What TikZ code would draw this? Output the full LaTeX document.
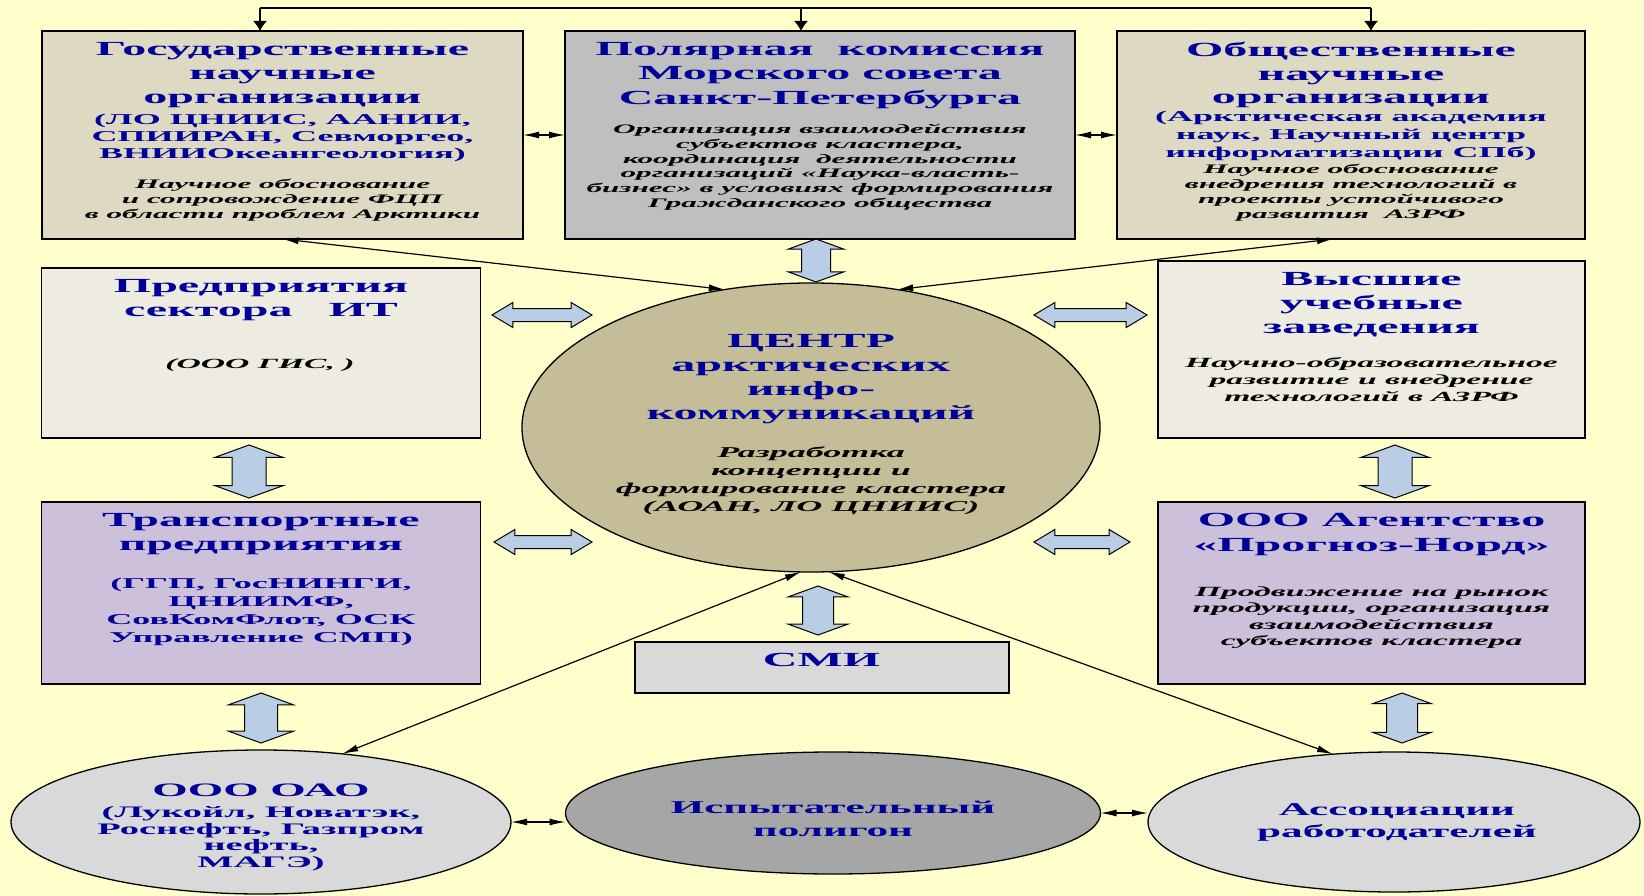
\documentclass[tikz,border=0pt]{standalone}
\usepackage{fontspec}
\setmainfont[FakeStretch=2.4]{Liberation Serif}
\usepackage{tikz}
\usetikzlibrary{positioning}
\usetikzlibrary{shapes.geometric}
\usetikzlibrary{shapes.arrows}
\usetikzlibrary{arrows.meta}

\definecolor{bgyellow}{HTML}{FFFFCC}
\definecolor{boxsand}{HTML}{DDD9C3}
\definecolor{boxgray}{HTML}{BFBFBF}
\definecolor{boxpale}{HTML}{EEECE1}
\definecolor{boxlilac}{HTML}{CCC0DA}
\definecolor{ovalkhaki}{HTML}{C4BD97}
\definecolor{boxlight}{HTML}{D9D9D9}
\definecolor{ovaldark}{HTML}{A6A6A6}
\definecolor{arrowblue}{HTML}{B9CDE5}
\definecolor{headblue}{HTML}{000099}

\begin{document}
\begin{tikzpicture}[
        x = 1pt, y = -1pt,
        box/.style = {
            draw,
            rectangle,
            line width = 1.3pt,
            inner sep = 0pt,
            outer sep = 0pt
        },
        oval/.style = {
            draw,
            ellipse,
            line width = 1.3pt,
            inner sep = 0pt,
            outer sep = 0pt
        },
        head/.style 2 args = {
            text = headblue,
            align = center,
            anchor = north,
            inner sep = 0pt,
            font = \bfseries\fontsize{#1}{#2}\selectfont
        },
        note/.style 2 args = {
            align = center,
            anchor = north,
            inner sep = 0pt,
            font = \bfseries\itshape\fontsize{#1}{#2}\selectfont
        },
        fath/.style = {
            double arrow,
            draw,
            fill = arrowblue,
            line width = 1pt,
            inner xsep = 0pt,
            inner ysep = 6pt,
            double arrow head extend = 6pt,
            double arrow tip angle = 62
        },
        fatv/.style = {
            double arrow,
            draw,
            fill = arrowblue,
            line width = 1pt,
            inner xsep = 0pt,
            inner ysep = #1,
            rotate = 90,
            double arrow tip angle = 140
        },
        fatv/.default = 16.5pt,
        link/.style = {
            line width = 1.2pt,
            {Latex[length=16pt, width=7pt]}-{Latex[length=16pt, width=7pt]}
        },
        drop/.style = {
            line width = 1.3pt,
            -{Latex[length=10pt, width=14pt]}
        }
        ]
%
        \fill[bgyellow] (0,0) rectangle (1644,896);
        \useasboundingbox (0,0) rectangle (1644,896);
%
% top row
        \node[box, fill=boxsand, minimum width=481pt, minimum height=208pt] (gov) at (282.5,135) {};
        \node[box, fill=boxgray, minimum width=510pt, minimum height=208pt] (polar) at (820,135) {};
        \node[box, fill=boxsand, minimum width=468pt, minimum height=208pt] (pub) at (1351,135) {};
%
        \node[head={20}{24}] (govH) at (282.5,42) {Государственные\\научные\\организации};
        \node[head={15}{17}] (govP) at (282.5,113.5) {(ЛО ЦНИИС, ААНИИ,\\СПИИРАН, Севморгео,\\ВНИИОкеангеология)};
        \node[note={13}{15}] (govN) at (282.5,179) {Научное обоснование\\и сопровождение ФЦП\\в области проблем Арктики};
%
        \node[head={20}{24.5}] (polarH) at (820,42) {Полярная~~комиссия\\Морского совета\\Санкт-Петербурга};
        \node[note={13}{14.8}] (polarN) at (820,124) {Организация взаимодействия\\субъектов кластера,\\координация~~деятельности\\организаций «Наука-власть-\\бизнес» в условиях формирования\\Гражданского общества};
%
        \node[head={20}{23.5}] (pubH) at (1351,42) {Общественные\\научные\\организации};
        \node[head={15}{18}] (pubP) at (1351,110.5) {(Арктическая академия\\наук, Научный центр\\информатизации СПб)};
        \node[note={13}{15}] (pubN) at (1351,164) {Научное обоснование\\внедрения технологий в\\проекты устойчивого\\развития~~АЗРФ};
%
% middle row
        \node[box, fill=boxpale, minimum width=439pt, minimum height=170pt] (itent) at (261,353) {};
        \node[head={20}{24}] (itentH) at (261,279.5) {Предприятия\\сектора~~~ИТ};
        \node[note={14}{17}] (itentN) at (260,358.5) {(ООО ГИС, )};
%
        \node[box, fill=boxpale, minimum width=427pt, minimum height=177pt] (vuz) at (1371.5,349.5) {};
        \node[head={20}{24}] (vuzH) at (1371.5,272.5) {Высшие\\учебные\\заведения};
        \node[note={14}{17}] (vuzN) at (1371.5,357.5) {Научно-образовательное\\развитие и внедрение\\технологий в АЗРФ};
%
        \node[oval, fill=ovalkhaki, minimum width=578pt, minimum height=289pt] (centre) at (811,427.5) {};
        \node[head={20}{24}] (centreH) at (811,334.5) {ЦЕНТР\\арктических\\инфо-\\коммуникаций};
        \node[note={15}{18}] (centreN) at (811,446.5) {Разработка\\концепции и\\формирование кластера\\(АОАН, ЛО ЦНИИС)};
%
        \node[box, fill=boxlilac, minimum width=439pt, minimum height=182pt] (trans) at (261,593) {};
        \node[head={20}{24}] (transH) at (261,513.5) {Транспортные\\предприятия};
        \node[head={15}{18}] (transP) at (261,577.5) {(ГГП, ГосНИНГИ,\\ЦНИИМФ,\\СовКомФлот, ОСК\\Управление СМП)};
%
        \node[box, fill=boxlilac, minimum width=427pt, minimum height=182pt] (agency) at (1371.5,593) {};
        \node[head={20}{25}] (agencyH) at (1371.5,513.5) {ООО Агентство\\«Прогноз-Норд»};
        \node[note={14}{16.5}] (agencyN) at (1371.5,586.5) {Продвижение на рынок\\продукции, организация\\взаимодействия\\субъектов кластера};
%
        \node[box, fill=boxlight, minimum width=374pt, minimum height=51pt] (smi) at (822,667.5) {};
        \node[head={20}{24}] (smiH) at (821.5,653.5) {СМИ};
%
% bottom row
        \node[oval, fill=boxlight, minimum width=500pt, minimum height=144pt] (oao) at (261,822) {};
        \node[head={19}{23}] (oaoH) at (261,784) {ООО ОАО};
        \node[head={16}{16.7}] (oaoP) at (261,806) {(Лукойл, Новатэк,\\Роснефть, Газпром\\нефть,\\МАГЭ)};
%
        \node[oval, fill=ovaldark, minimum width=535pt, minimum height=122pt] (poly) at (833,813) {};
        \node[head={18}{23}] (polyH) at (833,801) {Испытательный\\полигон};
%
        \node[oval, fill=boxlight, minimum width=492pt, minimum height=140pt] (assoc) at (1394,822) {};
        \node[head={18}{22}] (assocH) at (1397,803) {Ассоциации\\работодателей};
%
% block arrows
        \node[fath, minimum height=100pt] (fa1) at (542,315) {};
        \node[fath, minimum height=98pt] (fa2) at (543,542) {};
        \node[fath, minimum height=113pt] (fa3) at (1090.5,315) {};
        \node[fath, minimum height=96pt] (fa4) at (1082,542) {};
        \node[fatv=14pt, minimum height=43pt, double arrow head extend=13pt] (fa5) at (816,260.5) {};
        \node[fatv, minimum height=53pt, double arrow head extend=17pt] (fa6) at (249,471.5) {};
        \node[fatv, minimum height=53pt, double arrow head extend=17pt] (fa7) at (1395,471.5) {};
        \node[fatv=15pt, minimum height=49pt, double arrow head extend=14.5pt] (fa8) at (818,610.5) {};
        \node[fatv=16pt, minimum height=50pt, double arrow head extend=16pt] (fa9) at (261,718) {};
        \node[fatv=15pt, minimum height=50pt, double arrow head extend=14pt] (fa10) at (1402,718) {};
%
% thin connectors
        \coordinate (topL) at (260,8);
        \coordinate (topM) at (801,8);
        \coordinate (topR) at (1371,8);
        \draw[line width = 1.3pt] (topL) -- (topR);
        \draw[drop] (topL) -- (topL |- gov.north);
        \draw[drop] (topM) -- (topM |- polar.north);
        \draw[drop] (topR) -- (topR |- pub.north);
%
        \draw[link] (gov.east) -- (polar.west);
        \draw[link] (polar.east) -- (pub.west);
        \draw[link] (oao.east) -- (oao.east -| poly.west);
        \draw[link] (poly.east) -- (poly.east -| assoc.west);
%
        \draw[link] (gov.south) -- (centre.122);
        \draw[link] ([xshift=-18pt]pub.south) -- (centre.58);
        \draw[link] (oao.40) -- (centre.266);
        \draw[link] (assoc.132) -- (centre.-83);
%
    \end{tikzpicture}
\end{document}
